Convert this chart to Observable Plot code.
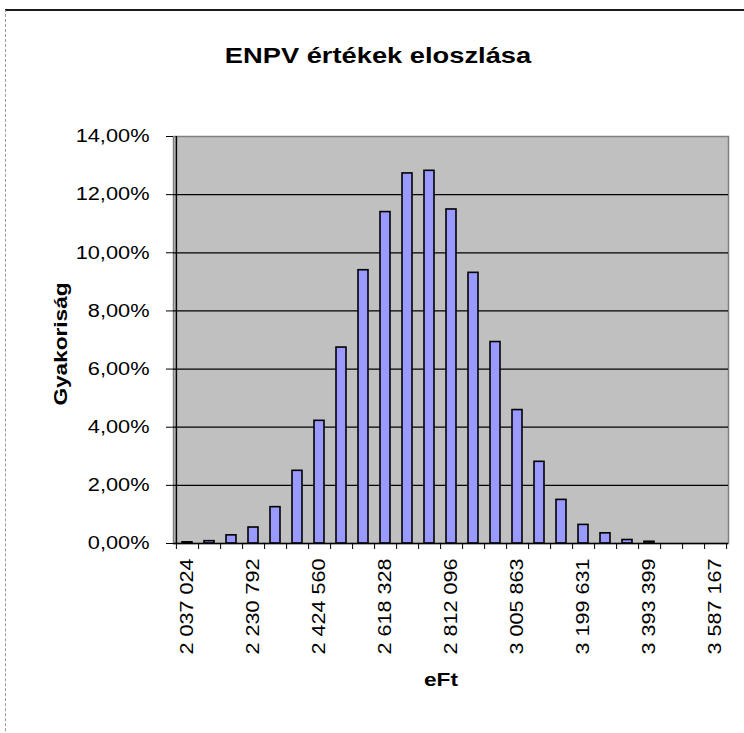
<!DOCTYPE html>
<html>
<head>
<meta charset="utf-8">
<script src="https://cdn.jsdelivr.net/npm/d3@7"></script>
<script src="https://cdn.jsdelivr.net/npm/@observablehq/plot@0.6"></script>
<style>
  html, body { margin: 0; padding: 0; background: #fff; }
  #wrap { position: relative; width: 744px; height: 733px; overflow: hidden; font-family: "Liberation Sans", Arial, sans-serif; }
  #border { position: absolute; left: 5px; top: 9px; width: 900px; height: 900px; border-top: 2px solid #1a1a1a; border-left: 1px dashed #9a9a9a; pointer-events: none; }
  #title { position: absolute; left: 128px; width: 500px; top: 45px; text-align: center; font-size: 22px; line-height: 22px; font-weight: bold; color: #000; transform: scaleX(1.24); transform-origin: 250px 50%; }
  #chart { position: absolute; left: 0; top: 0; }
</style>
</head>
<body>
<div id="wrap">
  <div id="border"></div>
  <div id="title">ENPV értékek eloszlása</div>
  <div id="chart"></div>
</div>
<script>
// Bin starting values (eFt)
const binStarts = [
  2037024, 2101613, 2166203, 2230792, 2295381, 2359971, 2424560, 2489149,
  2553739, 2618328, 2682917, 2747507, 2812096, 2876685, 2941274, 3005863,
  3070452, 3135042, 3199631, 3264220, 3328810, 3393399, 3457988, 3522578,
  3587167
];
// Relative frequency per bin
const frequency = [
  0.0004, 0.0008, 0.0028, 0.0055, 0.0125, 0.0250, 0.0422, 0.0674,
  0.0940, 0.1140, 0.1273, 0.1282, 0.1149, 0.0931, 0.0693, 0.0459,
  0.0281, 0.0150, 0.0064, 0.0035, 0.0012, 0.0006, 0, 0,
  0
];
// Labelled x ticks
const xTickLabels = [2037024, 2230792, 2424560, 2618328, 2812096, 3005863, 3199631, 3393399, 3587167];
// y ticks
const yTicks = [0, 0.02, 0.04, 0.06, 0.08, 0.10, 0.12, 0.14];
const xTitle = "eFt";
const yTitle = "Gyakoriság";

const W = 744, H = 733, mL = 173, mR = 16, mT = 136, mB = 190;
const padIn = 0.55;
const step = (W - mL - mR) / binStarts.length;

const fmtNum = n => String(n).replace(/\B(?=(\d{3})+(?!\d))/g, " ");
const fmtPct = d => (d * 100).toFixed(2).replace(".", ",") + "%";

const data = binStarts.map((b, i) => ({bin: b, value: frequency[i]}));

const chart = Plot.plot({
  width: W, height: H,
  marginLeft: mL, marginRight: mR, marginTop: mT, marginBottom: mB,
  style: {fontFamily: '"Liberation Sans", Arial, sans-serif', fontSize: "18px", background: "transparent", color: "black", overflow: "visible"},
  x: {type: "band", domain: binStarts, paddingInner: padIn, paddingOuter: padIn / 2},
  y: {domain: [0, 0.14]},
  marks: [
    Plot.frame({fill: "#C0C0C0", stroke: "#808080", strokeWidth: 1.5}),
    Plot.ruleY(yTicks.filter(t => t > 0 && t < 0.14), {stroke: "black", strokeWidth: 1.2}),
    Plot.barY(data.filter(d => d.value > 0), {x: "bin", y: "value", fill: "#9999FF", stroke: "black", strokeWidth: 1.6}),
    Plot.ruleY([0], {stroke: "black", strokeWidth: 1.5}),
    Plot.ruleX([binStarts[0]], {dx: -step / 2, stroke: "black", strokeWidth: 1.5}),
    Plot.axisY({ticks: yTicks, tickSize: 7, tickPadding: 17, tickFormat: fmtPct, label: null}),
    Plot.axisX({ticks: binStarts, tickSize: 6, tickFormat: () => "", dx: step / 2, label: null}),
    Plot.axisX({ticks: [binStarts[0]], tickSize: 6, tickFormat: () => "", dx: -step / 2, label: null}),
    Plot.axisX({ticks: xTickLabels, tickSize: 0, tickPadding: 15, tickRotate: -90, tickFormat: fmtNum, label: null}),
    Plot.text([yTitle], {text: d => d, frameAnchor: "left", textAnchor: "middle", dx: -113, dy: 4, rotate: -90, fontWeight: "bold", fontSize: 19, ariaLabel: () => "ytitle"}),
    Plot.text([xTitle], {text: d => d, frameAnchor: "bottom", textAnchor: "middle", dx: -10, dy: 142, fontWeight: "bold", fontSize: 18, ariaLabel: () => "xtitle"})
  ]
});

// Widen glyphs along the text direction to match the reference's wide text rendering
function stretch(selector, s) {
  chart.querySelectorAll(selector).forEach(t => {
    let tr = t.getAttribute("transform");
    if (!tr) {
      const x = t.getAttribute("x") || 0, y = t.getAttribute("y") || 0;
      tr = `translate(${x},${y})`;
      t.setAttribute("x", 0);
      t.setAttribute("y", 0);
    }
    t.setAttribute("transform", tr + ` scale(${s},1)`);
  });
}
stretch('g[aria-label="y-axis tick label"] text', 1.21);
stretch('g[aria-label="x-axis tick label"] text', 1.2);
stretch('text[aria-label="ytitle"]', 1.19);
stretch('text[aria-label="xtitle"]', 1.26);

document.getElementById("chart").appendChild(chart);
</script>
</body>
</html>
